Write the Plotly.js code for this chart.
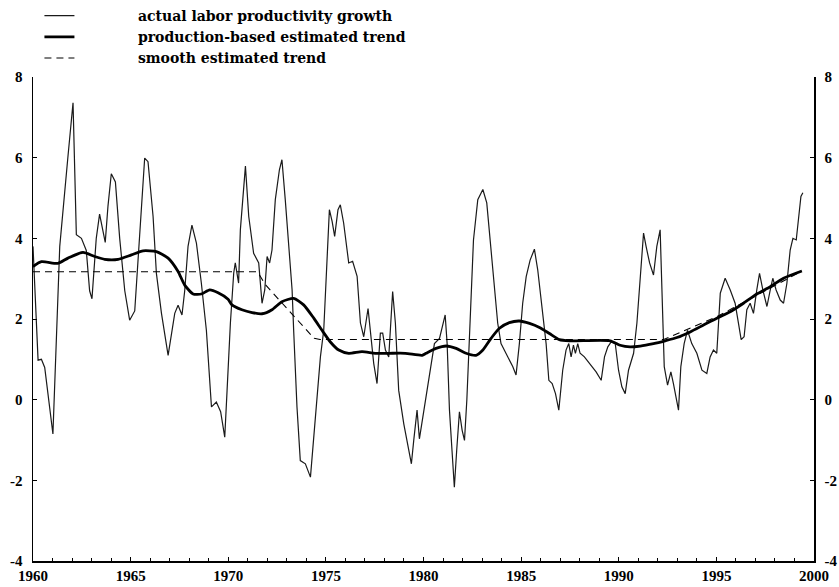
<!DOCTYPE html>
<html>
<head>
<meta charset="utf-8">
<script src="https://cdn.plot.ly/plotly-3.0.1.min.js"></script>
<style>html,body{margin:0;padding:0;background:#fff;}#chart{width:839px;height:587px;}</style>
</head>
<body>
<div id="chart"></div>
<script>
// actual labor productivity growth
const actualYears = [1960.00,1960.26,1960.43,1960.60,1961.02,1961.37,1961.79,1962.05,1962.22,1962.48,1962.73,1962.90,1963.02,1963.24,1963.41,1963.58,1963.70,1963.84,1964.01,1964.22,1964.44,1964.70,1964.95,1965.21,1965.46,1965.72,1965.89,1966.15,1966.32,1966.58,1966.92,1967.26,1967.43,1967.63,1967.77,1967.94,1968.14,1968.37,1968.62,1968.88,1969.14,1969.39,1969.61,1969.82,
1969.94,1970.11,1970.28,1970.36,1970.53,1970.62,1970.88,1971.05,1971.30,1971.56,1971.73,1971.87,1971.99,1972.12,1972.24,1972.41,1972.62,1972.75,1972.92,1973.10,1973.27,1973.35,1973.52,1973.69,1973.95,1974.21,1974.46,1974.72,1974.89,1975.06,1975.18,1975.32,1975.45,1975.62,1975.74,1975.91,1976.17,1976.37,1976.60,1976.77,1976.94,1977.16,1977.31,1977.45,1977.62,1977.79,1977.91,1978.05,1978.22,1978.42,1978.56,1978.73,1978.99,1979.16,1979.38,1979.50,1979.67,
1979.79,1980.05,1980.30,1980.56,1980.82,1980.99,1981.11,1981.21,1981.33,1981.46,1981.58,1981.70,1981.84,1981.98,1982.10,1982.22,1982.35,1982.44,1982.56,1982.78,1983.04,1983.24,1983.41,1983.63,1983.80,1983.97,1984.23,1984.57,1984.74,1984.91,1985.08,1985.26,1985.46,1985.68,1985.85,1986.07,1986.28,1986.42,1986.59,1986.76,1986.93,1987.13,1987.30,1987.44,1987.56,1987.68,1987.78,1987.90,1988.02,1988.24,1988.50,1988.84,1989.10,1989.27,1989.44,1989.61,
1989.82,1989.99,1990.16,1990.33,1990.50,1990.76,1990.93,1991.10,1991.27,1991.40,1991.58,1991.78,1991.95,1992.12,1992.21,1992.33,1992.50,1992.67,1992.80,1992.94,1993.06,1993.18,1993.35,1993.52,1993.74,1994.00,1994.26,1994.51,1994.68,1994.85,1995.02,1995.20,1995.45,1995.71,1995.96,1996.13,1996.27,1996.42,1996.56,1996.73,1996.90,1997.07,1997.21,1997.38,1997.59,1997.76,1997.89,1998.06,1998.27,1998.44,1998.61,1998.78,1998.92,1999.09,1999.21,1999.33,1999.43];
const actualValues = [3.80,0.98,1.00,0.80,-0.85,3.80,6.03,7.36,4.09,4.00,3.70,2.70,2.50,4.00,4.60,4.20,3.90,4.80,5.60,5.40,4.00,2.70,1.97,2.20,4.00,5.99,5.90,4.54,3.13,2.14,1.10,2.14,2.34,2.10,2.70,3.80,4.33,3.88,2.90,1.72,-0.18,-0.06,-0.30,-0.93,
0.23,1.90,3.14,3.39,2.89,4.21,5.79,4.54,3.63,3.39,2.39,2.72,3.55,3.39,3.71,4.96,5.70,5.95,4.96,3.80,2.72,1.72,-0.18,-1.51,-1.59,-1.92,-0.52,1.06,1.72,3.55,4.71,4.42,4.05,4.71,4.83,4.38,3.39,3.43,3.06,1.90,1.56,2.26,1.56,0.90,0.40,1.65,1.65,1.23,1.06,2.68,1.90,0.23,-0.60,-1.01,-1.59,-1.01,-0.26,
-0.97,-0.18,0.65,1.39,1.52,1.90,2.10,1.39,-0.26,-1.26,-2.17,-1.26,-0.30,-0.76,-1.01,0.00,1.48,2.55,3.96,4.96,5.21,4.88,3.96,2.72,1.90,1.39,1.15,0.82,0.61,1.39,2.39,3.05,3.46,3.73,3.22,2.31,1.39,0.48,0.40,0.15,-0.26,0.73,1.23,1.39,1.06,1.35,1.15,1.39,1.15,1.06,0.90,0.69,0.48,1.06,1.31,1.43,
1.39,0.73,0.32,0.15,0.73,1.15,1.90,2.97,4.13,3.80,3.39,3.09,3.80,4.21,2.72,0.82,0.36,0.69,0.40,-0.01,-0.26,0.82,1.39,1.72,1.39,1.15,0.73,0.65,1.06,1.23,1.15,2.64,3.01,2.72,2.39,1.90,1.49,1.56,2.23,2.39,2.14,2.72,3.13,2.72,2.31,2.72,3.01,2.72,2.47,2.39,2.88,3.71,4.00,3.96,4.46,5.04,5.13];

// production-based estimated trend
const trendYears = [1960.00,1960.43,1961.28,1961.79,1962.56,1963.16,1963.67,1964.36,1965.04,1965.64,1966.32,1966.92,1967.43,1967.77,1968.20,1968.62,1969.05,1969.48,1969.99,1970.19,1970.70,1971.22,1971.73,1972.24,1972.75,1973.35,1973.86,1974.38,1974.80,1975.23,1975.66,1976.17,1976.85,1977.53,1978.22,1979.07,1979.93,1980.13,1980.64,1981.16,1981.67,1982.18,1982.69,1983.04,1983.46,1983.89,1984.40,1984.91,1985.43,1985.94,1986.45,1986.96,1987.48,1989.56,1990.07,1990.58,1991.10,1991.78,1992.38,1992.98,1993.66,1994.34,1995.02,1995.71,1996.39,1997.07,1997.76,1998.44,1999.38];
const trendValues = [3.30,3.42,3.38,3.51,3.65,3.55,3.48,3.48,3.59,3.69,3.67,3.51,3.18,2.84,2.62,2.62,2.72,2.65,2.49,2.35,2.23,2.16,2.13,2.23,2.43,2.51,2.35,2.02,1.72,1.43,1.23,1.15,1.19,1.15,1.15,1.15,1.10,1.15,1.27,1.33,1.27,1.15,1.10,1.23,1.52,1.77,1.91,1.95,1.89,1.79,1.64,1.49,1.46,1.46,1.35,1.31,1.33,1.39,1.46,1.54,1.68,1.85,2.02,2.18,2.39,2.62,2.80,3.01,3.19];

// smooth estimated trend
const smoothYears = [1960.0,1971.5,1971.9,1974.4,1974.7,1992.3,1995.0,1999.38];
const smoothValues = [3.17,3.17,2.85,1.52,1.49,1.49,2.05,3.19];

const xTickVals = [1960,1965,1970,1975,1980,1985,1990,1995,2000];
const xTickText = ["1960","1965","1970","1975","1980","1985","1990","1995","2000"];
const yTickVals = [-4,-2,0,2,4,6,8];
const yTickText = ["-4","-2","0","2","4","6","8"];

const seriesNames = ["actual labor productivity growth","production-based estimated trend","smooth estimated trend"];
const pad = "\u00A0".repeat(12);

const traces = [
  {x: actualYears, y: actualValues, type: "scatter", mode: "lines", name: pad + seriesNames[0],
   line: {color: "#1a1a1a", width: 1.2}},
  {x: trendYears, y: trendValues, type: "scatter", mode: "lines", name: pad + seriesNames[1],
   line: {color: "#000", width: 2.8, shape: "spline", smoothing: 0.6}},
  {x: smoothYears, y: smoothValues, type: "scatter", mode: "lines", name: pad + seriesNames[2],
   line: {color: "#000", width: 1.1, dash: "7px,5px"}, yaxis: "y2"}
];

const tickFont = {family: "Liberation Serif, Times New Roman, serif", size: 15, color: "#000", weight: "bold"};
const yAxisBase = {
  range: [-4, 8], tickvals: yTickVals, ticktext: yTickText, ticks: "inside", ticklen: 4, tickwidth: 1,
  tickcolor: "#000", showline: true, linecolor: "#000", linewidth: 1.5, showgrid: false, zeroline: false,
  tickfont: tickFont, automargin: false, ticklabelstandoff: 6, fixedrange: true
};

const layout = {
  width: 839, height: 587,
  margin: {l: 33, r: 25, t: 77, b: 26, autoexpand: false},
  paper_bgcolor: "#fff", plot_bgcolor: "#fff",
  showlegend: true,
  legend: {
    xref: "container", yref: "container", x: 0.047, y: 1.0, xanchor: "left", yanchor: "top",
    font: {family: "DejaVu Serif, serif", size: 14, color: "#000", weight: "bold"},
    bgcolor: "rgba(0,0,0,0)", borderwidth: 0, tracegroupgap: 0
  },
  xaxis: {
    range: [1960, 2000], tickvals: xTickVals, ticktext: xTickText, ticks: "inside", ticklen: 4, tickwidth: 1,
    tickcolor: "#000", showline: true, linecolor: "#000", linewidth: 1.5, showgrid: false, zeroline: false,
    tickfont: tickFont, automargin: false, ticklabelstandoff: 0, fixedrange: true,
    minor: {dtick: 1, tick0: 1960, ticks: "inside", ticklen: 3, tickcolor: "#000", tickwidth: 1, showgrid: false}
  },
  yaxis: Object.assign({}, yAxisBase, {side: "left"}),
  yaxis2: Object.assign({}, yAxisBase, {side: "right", overlaying: "y"})
};

Plotly.newPlot("chart", traces, layout, {staticPlot: true, displayModeBar: false});
</script>
</body>
</html>
